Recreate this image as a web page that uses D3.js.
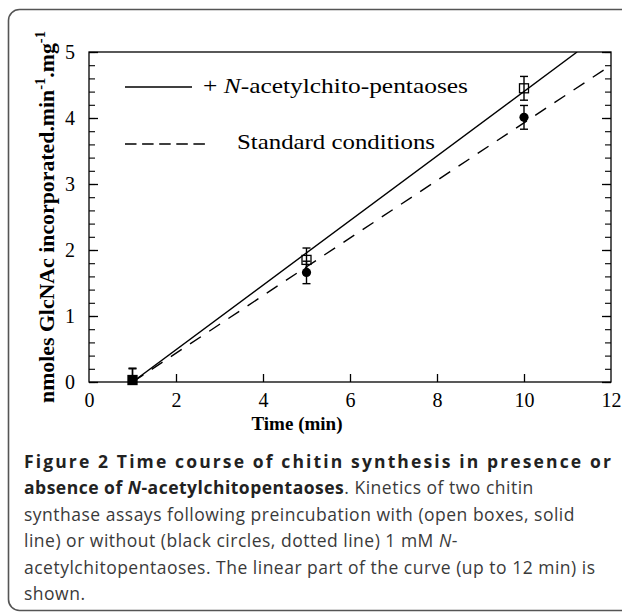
<!DOCTYPE html>
<html><head><meta charset="utf-8">
<script src="https://cdn.jsdelivr.net/npm/d3@7"></script>
<style>body{margin:0;background:#fff}svg{display:block}</style>
</head><body>
<script>
// ---- data ----
const times = [1, 5, 10];
const withPentaoses = [0.03, 1.85, 4.45];      // open squares
const withPentaosesErr = [0.18, 0.18, 0.18];
const standard = [0.03, 1.66, 4.01];           // black circles
const standardErr = [0.17, 0.17, 0.18];
const fitWith = [[1, 0], [11.22, 5]];          // solid line
const fitStandard = [[1, 0], [12, 4.8]];       // dashed line
const xTicks = [0, 2, 4, 6, 8, 10, 12];
const yTicks = [0, 1, 2, 3, 4, 5];
const legendLabels = ["+ ", "N", "-acetylchito-pentaoses", "Standard conditions"];
const captionLines = [
  [{t:"Figure 2 Time course of chitin synthesis in presence or", b:true}],
  [{t:"absence of ", b:true},{t:"N", b:true, i:true},{t:"-acetylchitopentaoses", b:true},{t:". Kinetics of two chitin"}],
  [{t:"synthase assays following preincubation with (open boxes, solid"}],
  [{t:"line) or without (black circles, dotted line) 1 mM "},{t:"N", i:true},{t:"-"}],
  [{t:"acetylchitopentaoses. The linear part of the curve (up to 12 min) is"}],
  [{t:"shown."}]
];

const W = 622, H = 612;
const svg = d3.select("body").append("svg").attr("width", W).attr("height", H);

// frame
svg.append("rect").attr("x", 8.5).attr("y", 9.5).attr("width", 700).attr("height", 601)
  .attr("rx", 11).attr("fill", "none").attr("stroke", "#555").attr("stroke-width", 1.6);

const x = d3.scaleLinear().domain([0, 12]).range([89, 611]);
const y = d3.scaleLinear().domain([0, 5]).range([382, 52]);
const serif = "'Liberation Serif','Times New Roman',serif";

const g = svg.append("g");
g.append("rect").attr("x", x(0)).attr("y", y(5)).attr("width", x(12) - x(0)).attr("height", y(0) - y(5))
  .attr("fill", "none").attr("stroke", "#000").attr("stroke-width", 1.3);

// bottom axis: ticks inward
const xAxis = g.append("g").attr("transform", `translate(0,${y(0)})`)
  .call(d3.axisBottom(x).tickValues(xTicks).tickSize(-8).tickPadding(11).tickFormat(d3.format("d")));
xAxis.select(".domain").remove();
xAxis.selectAll(".tick line").attr("stroke-width", 1.3);
xAxis.selectAll(".tick text").attr("font-family", serif).attr("font-size", 20).attr("fill", "#000");
xAxis.selectAll(".tick").filter(d => d === 0 || d === 12).select("line").remove();

// left axis
const yMinor = d3.range(0, 5.0001, 0.2);
const yAxis = g.append("g").attr("transform", `translate(${x(0)},0)`)
  .call(d3.axisLeft(y).tickValues(yTicks).tickSize(-9).tickPadding(14).tickFormat(d3.format("d")));
yAxis.select(".domain").remove();
yAxis.selectAll(".tick line").attr("stroke-width", 1.3);
yAxis.selectAll(".tick text").attr("font-family", serif).attr("font-size", 20).attr("fill", "#000");
g.append("g").attr("transform", `translate(${x(0)},0)`)
  .call(d3.axisLeft(y).tickValues(yMinor).tickSize(-6).tickFormat(""))
  .call(s => s.select(".domain").remove())
  .selectAll(".tick line").attr("stroke-width", 1.1);
// right axis
g.append("g").attr("transform", `translate(${x(12)},0)`)
  .call(d3.axisRight(y).tickValues(yTicks).tickSize(-9).tickFormat(""))
  .call(s => s.select(".domain").remove())
  .selectAll(".tick line").attr("stroke-width", 1.3);
g.append("g").attr("transform", `translate(${x(12)},0)`)
  .call(d3.axisRight(y).tickValues(yMinor).tickSize(-6).tickFormat(""))
  .call(s => s.select(".domain").remove())
  .selectAll(".tick line").attr("stroke-width", 1.1);

// clip for lines
svg.append("clipPath").attr("id", "pc").append("rect")
  .attr("x", x(0)).attr("y", y(5)).attr("width", x(12) - x(0)).attr("height", y(0) - y(5));
const line = d3.line().x(d => x(d[0])).y(d => y(d[1]));
g.append("path").attr("d", line(fitWith)).attr("clip-path", "url(#pc)")
  .attr("fill", "none").attr("stroke", "#000").attr("stroke-width", 1.4);
g.append("path").attr("d", line(fitStandard)).attr("clip-path", "url(#pc)")
  .attr("fill", "none").attr("stroke", "#000").attr("stroke-width", 1.4).attr("stroke-dasharray", "13,10");

// error bars
function errBars(vals, errs) {
  times.forEach((t, i) => {
    const cx = x(t), top = y(vals[i] + errs[i]), bot = y(Math.max(0, vals[i] - errs[i]));
    g.append("line").attr("x1", cx).attr("x2", cx).attr("y1", top).attr("y2", bot).attr("stroke", "#000").attr("stroke-width", 1.4);
    g.append("line").attr("x1", cx - 4).attr("x2", cx + 4).attr("y1", top).attr("y2", top).attr("stroke", "#000").attr("stroke-width", 1.4);
    if (vals[i] - errs[i] > 0)
      g.append("line").attr("x1", cx - 4).attr("x2", cx + 4).attr("y1", bot).attr("y2", bot).attr("stroke", "#000").attr("stroke-width", 1.4);
  });
}
errBars(standard, standardErr);
errBars(withPentaoses, withPentaosesErr);

g.selectAll("circle.std").data(times).join("circle").attr("class", "std")
  .attr("cx", d => x(d)).attr("cy", (d, i) => y(standard[i])).attr("r", 4.6).attr("fill", "#000");
g.selectAll("rect.pent").data(times).join("rect").attr("class", "pent")
  .attr("x", d => x(d) - 4.5).attr("y", (d, i) => y(withPentaoses[i]) - 4.5)
  .attr("width", 9).attr("height", 9)
  .attr("fill", (d, i) => i === 0 ? "#000" : "none").attr("stroke", "#000").attr("stroke-width", 1.3);

// legend
g.append("line").attr("x1", 125).attr("x2", 192).attr("y1", 87).attr("y2", 87).attr("stroke", "#000").attr("stroke-width", 1.4);
const lt = g.append("text").attr("x", 203).attr("y", 93).attr("font-family", serif).attr("font-size", 22).attr("fill", "#000")
  .attr("textLength", 265).attr("lengthAdjust", "spacingAndGlyphs");
lt.append("tspan").text(legendLabels[0]);
lt.append("tspan").attr("font-style", "italic").text(legendLabels[1]);
lt.append("tspan").text(legendLabels[2]);
g.append("line").attr("x1", 125).attr("x2", 205).attr("y1", 144).attr("y2", 144).attr("stroke", "#000").attr("stroke-width", 1.4).attr("stroke-dasharray", "11.5,5.6");
g.append("text").attr("x", 237).attr("y", 149).attr("font-family", serif).attr("font-size", 22).attr("fill", "#000")
  .attr("textLength", 198).attr("lengthAdjust", "spacingAndGlyphs").text(legendLabels[3]);

// axis titles
svg.append("text").attr("x", 297).attr("y", 430).attr("text-anchor", "middle")
  .attr("font-family", serif).attr("font-size", 19).attr("font-weight", "bold").text("Time (min)");
const yl = svg.append("text").attr("transform", "translate(54,217) rotate(-90)").attr("text-anchor", "middle")
  .attr("font-family", serif).attr("font-size", 21).attr("font-weight", "bold")
  .attr("textLength", 372).attr("lengthAdjust", "spacingAndGlyphs");
yl.append("tspan").text("nmoles GlcNAc incorporated.min");
yl.append("tspan").attr("dy", -9).attr("font-size", 14).text("-1");
yl.append("tspan").attr("dy", 9).text(".mg");
yl.append("tspan").attr("dy", -9).attr("font-size", 14).text("-1");

// caption
const cap = svg.append("g");
captionLines.forEach((parts, i) => {
  const t = cap.append("text").attr("x", 24).attr("y", 468 + i * 26.4)
    .attr("font-family", "'Open Sans',sans-serif").attr("font-size", 17.5)
    .attr("letter-spacing", 0.5).attr("fill", "#3a3a3a");
  parts.forEach(p => {
    const s = t.append("tspan").text(p.t);
    if (p.b) s.attr("font-weight", "bold").attr("fill", "#222");
    if (p.i) s.attr("font-style", "italic");
  });
  if (i === 0) {
    const len = t.node().getComputedTextLength();
    const n = parts[0].t.length;
    t.attr("letter-spacing", 0.5 + (589 - len) / n);
  }
});
</script>
</body></html>
